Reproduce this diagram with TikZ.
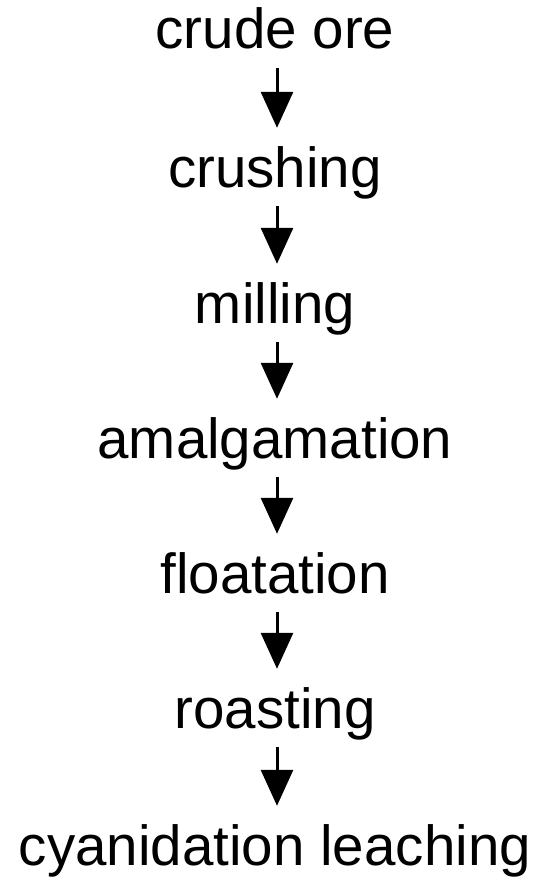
\documentclass[tikz,border=0pt]{standalone}
\usepackage{fontspec}
\setmainfont{Liberation Sans}
\usetikzlibrary{arrows.meta}
\begin{document}
\begin{tikzpicture}[x=1pt,y=-1pt,
  stage/.style={inner sep=0pt, text height=42pt, text depth=12pt, font=\fontsize{56.5}{60}\selectfont},
  flow/.style={line width=3pt, -{Triangle[width=32pt,length=36pt]}, shorten <=7pt, shorten >=17pt}]
\useasboundingbox (0,0) rectangle (533,880);
\node[stage, anchor=base] (s1) at (275,49) {crude ore};
\node[stage, anchor=base] (s2) at (275,187) {crushing};
\node[stage, anchor=base] (s3) at (275,323) {milling};
\node[stage, anchor=base] (s4) at (275,458) {amalgamation};
\node[stage, anchor=base] (s5) at (275,593) {floatation};
\node[stage, anchor=base] (s6) at (275,728) {roasting};
\node[stage, anchor=base] (s7) at (275,865) {cyanidation leaching};
\foreach \a/\b in {s1/s2,s2/s3,s3/s4,s4/s5,s5/s6,s6/s7}
  \draw[flow] ([xshift=2pt]\a.south) -- ([xshift=2pt]\b.north);
\end{tikzpicture}
\end{document}
